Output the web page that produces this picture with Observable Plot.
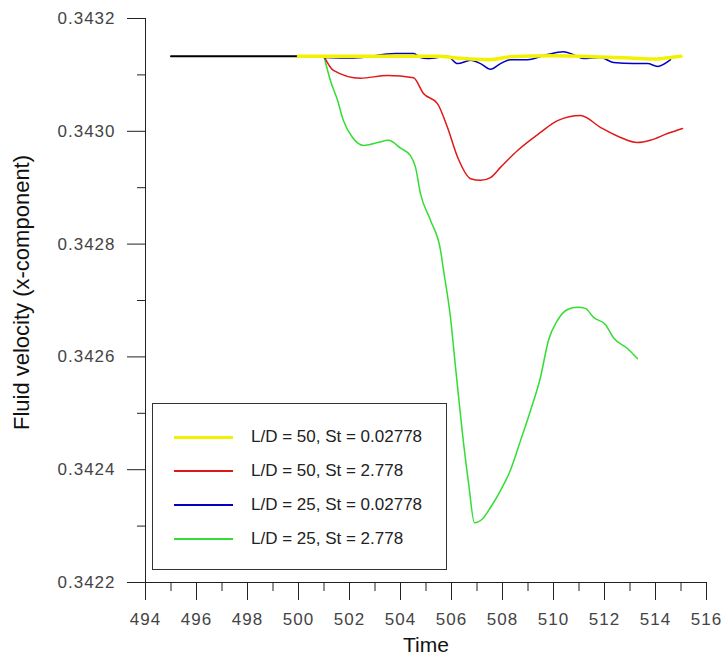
<!DOCTYPE html>
<html>
<head>
<meta charset="utf-8">
<script src="https://cdn.jsdelivr.net/npm/d3@7"></script>
<script src="https://cdn.jsdelivr.net/npm/@observablehq/plot@0.6"></script>
<style>
  html, body { margin: 0; padding: 0; background: #fff; }
  #wrap { position: relative; width: 724px; height: 656px; font-family: "Liberation Sans", Arial, sans-serif; }
  #legend { position: absolute; left: 152px; top: 403px; width: 295px; height: 167px; box-sizing: border-box; border: 1px solid #333; background: #fff; }
  .row { position: absolute; left: 0; height: 0; }
  .sw { position: absolute; left: 21px; width: 59px; }
  .lt { position: absolute; left: 98px; top: -10px; font-size: 17px; color: #222; white-space: nowrap; line-height: 20px; }
</style>
</head>
<body>
<div id="wrap"><div id="legend"></div></div>
<script>
// ---- data ----
const xMajorTicks = [494, 496, 498, 500, 502, 504, 506, 508, 510, 512, 514, 516];
const xMinorTicks = [495, 497, 499, 501, 503, 505, 507, 509, 511, 513, 515];
const yMajorTicks = [0.3422, 0.3424, 0.3426, 0.3428, 0.3430, 0.3432];
const yMinorTicks = [0.3423, 0.3425, 0.3427, 0.3429, 0.3431];

const blackT = [495, 496, 497, 498, 499, 500];
const blackV = [0.343133, 0.343133, 0.343133, 0.343133, 0.343133, 0.343133];

const yellowT = [500, 502, 504, 505.5, 506.2, 507.5, 508.3, 510, 511, 513, 514, 514.6, 515];
const yellowV = [0.343133, 0.343133, 0.343133, 0.343133, 0.343130, 0.343127, 0.343132, 0.343134, 0.343133, 0.343130, 0.343128, 0.343131, 0.343133];

const blueT = [501.0, 502.16, 503.80, 504.51, 504.78, 505.06, 505.84, 506.24, 506.75, 507.14, 507.53, 507.92, 508.31, 508.98, 509.76, 510.39, 510.78, 511.18, 511.84, 512.35, 513.14, 513.69, 514.08, 514.59];
const blueV = [0.343131, 0.343130, 0.343138, 0.343138, 0.343131, 0.343129, 0.343133, 0.343120, 0.343126, 0.343120, 0.343110, 0.343120, 0.343127, 0.343127, 0.343136, 0.343141, 0.343136, 0.343129, 0.343131, 0.343122, 0.343120, 0.343120, 0.343115, 0.343127];

const redT = [501.0, 501.37, 502.43, 503.49, 504.51, 504.90, 505.45, 505.84, 506.24, 506.75, 507.14, 507.53, 507.92, 508.59, 509.49, 510.16, 511.06, 511.84, 512.63, 513.29, 513.80, 514.47, 515.06];
const redV = [0.343133, 0.343108, 0.343094, 0.343099, 0.343095, 0.343067, 0.343049, 0.343007, 0.342954, 0.342916, 0.342913, 0.342918, 0.342936, 0.342966, 0.342998, 0.343019, 0.343028, 0.343007, 0.342989, 0.342980, 0.342984, 0.342996, 0.343005];

const greenT = [501.0, 501.25, 501.53, 501.76, 502.12, 502.55, 503.10, 503.53, 504.00, 504.39, 504.59, 504.78, 505.18, 505.57, 505.69, 505.96, 506.16, 506.43, 506.67, 506.90, 507.22, 507.53, 507.92, 508.31, 508.71, 509.10, 509.49, 509.80, 510.16, 510.55, 510.94, 511.25, 511.57, 512.04, 512.35, 512.90, 513.29];
const greenV = [0.343133, 0.343090, 0.343055, 0.343019, 0.342989, 0.342975, 0.342980, 0.342984, 0.342970, 0.342957, 0.342936, 0.342890, 0.342842, 0.342789, 0.342753, 0.342670, 0.342581, 0.342464, 0.342376, 0.342306, 0.342313, 0.342333, 0.342363, 0.342399, 0.342452, 0.342505, 0.342564, 0.342629, 0.342665, 0.342684, 0.342688, 0.342686, 0.342670, 0.342657, 0.342634, 0.342615, 0.342597];

const legendLabels = ["L/D = 50, St = 0.02778", "L/D = 50, St = 2.778", "L/D = 25, St = 0.02778", "L/D = 25, St = 2.778"];
const legendColors = ["#f2f200", "#e01818", "#0000c8", "#33dd33"];
const legendWidths = [3, 2, 1.5, 2];

const xLabel = "Time";
const yLabel = "Fluid velocity (x-component)";

// ---- build ----
const pts = (T, V) => T.map((t, i) => ({t, v: V[i]}));
const FONT = "'Liberation Sans', Arial, sans-serif";

const chart = Plot.plot({
  width: 724,
  height: 656,
  marginLeft: 145,
  marginRight: 18,
  marginTop: 18,
  marginBottom: 74,
  x: {domain: [494, 516]},
  y: {domain: [0.3422, 0.3432]},
  style: {fontFamily: FONT, background: "#fff", overflow: "visible"},
  marks: [
    Plot.axisX({ticks: xMajorTicks, tickSize: 18, tickPadding: 12, tickFormat: d => String(d), fontSize: 17, fill: "#444", stroke: "#222", label: null}),
    Plot.axisX({ticks: xMinorTicks, tickSize: 9, tickFormat: () => "", stroke: "#222", label: null}),
    Plot.axisY({ticks: yMajorTicks, tickSize: 18, tickPadding: 12, tickFormat: d => d.toFixed(4), fontSize: 17, fill: "#444", stroke: "#222", label: null}),
    Plot.axisY({ticks: yMinorTicks, tickSize: 8, tickFormat: () => "", stroke: "#222", label: null}),
    Plot.ruleX([494], {stroke: "#222"}),
    Plot.ruleY([0.3422], {stroke: "#222"}),
    Plot.line(pts(blackT, blackV), {x: "t", y: "v", stroke: "#000", strokeWidth: 2}),
    Plot.line(pts(greenT, greenV), {x: "t", y: "v", stroke: legendColors[3], strokeWidth: 1.5, curve: "monotone-x"}),
    Plot.line(pts(redT, redV), {x: "t", y: "v", stroke: legendColors[1], strokeWidth: 1.5, curve: "monotone-x"}),
    Plot.line(pts(blueT, blueV), {x: "t", y: "v", stroke: legendColors[2], strokeWidth: 1.5, curve: "monotone-x"}),
    Plot.line(pts(yellowT, yellowV), {x: "t", y: "v", stroke: legendColors[0], strokeWidth: 3.5, curve: "monotone-x"}),
    Plot.text([xLabel], {frameAnchor: "bottom", dy: 63, fontSize: 21, fill: "#111", textAnchor: "middle", lineAnchor: "middle"}),
    Plot.text([yLabel], {frameAnchor: "left", dx: -124, dy: -8, rotate: -90, fontSize: 22, fill: "#111", textAnchor: "middle", lineAnchor: "middle"})
  ]
});
chart.querySelectorAll("text").forEach(t => {
  if (/^[0-9.]+$/.test(t.textContent)) t.style.letterSpacing = "1px";
});

const wrap = document.getElementById("wrap");
wrap.insertBefore(chart, wrap.firstChild);

const legend = document.getElementById("legend");
legendLabels.forEach((lab, i) => {
  const row = document.createElement("div");
  row.className = "row";
  row.style.top = (33 + i * 34) + "px";
  const sw = document.createElement("div");
  sw.className = "sw";
  sw.style.height = legendWidths[i] + "px";
  sw.style.top = (-legendWidths[i] / 2) + "px";
  sw.style.background = legendColors[i];
  const tx = document.createElement("div");
  tx.className = "lt";
  tx.textContent = lab;
  row.appendChild(sw);
  row.appendChild(tx);
  legend.appendChild(row);
});
</script>
</body>
</html>
